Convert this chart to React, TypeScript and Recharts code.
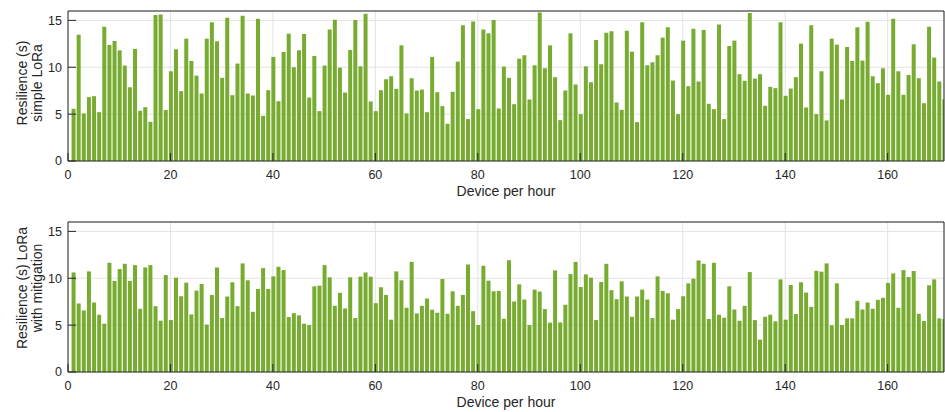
import React from "react";
import { BarChart, Bar, XAxis, YAxis, CartesianGrid } from "recharts";

// Devices per hour run 1..171 along the x axis
const devices = Array.from({ length: 171 }, (_, i) => i + 1);

const xTicks = [0, 20, 40, 60, 80, 100, 120, 140, 160];
const yTicks = [0, 5, 10, 15];

// Resilience (s), plain LoRa
const simpleLoRa = [
  5.57, 13.47, 5.07, 6.81, 6.91, 5.21, 14.33, 12.38, 12.8, 11.8,
  10.18, 7.87, 11.95, 5.35, 5.74, 4.18, 15.57, 15.64, 5.43, 9.57,
  11.91, 7.45, 13.05, 10.67, 9.11, 7.2, 13.05, 14.79, 12.77, 8.87,
  15.28, 7.02, 10.39, 15.5, 7.2, 6.99, 15.18, 4.82, 7.55, 11.1,
  6.38, 11.63, 13.58, 10.0, 11.81, 13.55, 6.77, 11.2, 5.32, 10.18,
  14.04, 15.07, 9.96, 7.3, 11.84, 15.04, 10.1, 15.71, 6.35, 5.32,
  7.55, 8.72, 9.04, 7.7, 12.34, 5.07, 8.83, 7.52, 7.62, 5.21,
  11.1, 7.34, 5.85, 3.97, 7.38, 10.6, 14.47, 4.47, 14.89, 5.53,
  14.04, 13.62, 15.04, 5.6, 10.07, 8.87, 6.06, 10.92, 11.28, 6.56,
  10.21, 15.85, 9.89, 12.34, 8.94, 4.36, 7.52, 13.62, 8.16, 5.0,
  10.1, 8.4, 12.91, 10.32, 13.69, 13.83, 6.24, 5.46, 13.9, 11.67,
  4.15, 14.79, 10.21, 10.53, 11.28, 13.16, 14.26, 8.58, 5.0, 12.84,
  7.98, 14.11, 8.48, 13.97, 6.1, 5.53, 14.57, 4.47, 12.27, 12.84,
  9.26, 8.55, 15.78, 8.79, 9.26, 5.89, 7.91, 7.77, 14.79, 6.95,
  7.73, 8.94, 12.52, 5.71, 14.47, 5.0, 9.57, 4.33, 13.05, 12.41,
  6.56, 12.16, 10.67, 14.26, 10.71, 14.86, 9.04, 8.3, 9.89, 7.06,
  15.18, 9.57, 7.06, 9.18, 12.45, 8.83, 6.17, 14.33, 11.03, 8.48, 6.6,
];

// Resilience (s), LoRa with mitigation
const mitigatedLoRa = [
  10.62, 7.31, 6.57, 10.73, 7.41, 6.11, 5.15, 11.65, 9.71, 10.98,
  11.54, 9.71, 11.4, 6.74, 11.15, 11.4, 7.02, 5.47, 10.34, 5.54,
  10.06, 8.08, 9.53, 6.14, 8.68, 9.39, 5.05, 8.22, 11.15, 5.75,
  8.05, 9.57, 7.02, 11.58, 9.78, 6.42, 8.86, 11.08, 8.86, 10.2,
  11.22, 10.87, 5.86, 6.28, 6.04, 5.15, 5.01, 9.14, 9.21, 11.4,
  10.1, 7.06, 8.44, 6.78, 10.1, 5.75, 10.17, 10.62, 10.17, 7.34,
  9.04, 8.22, 5.58, 10.73, 9.78, 6.85, 11.75, 6.25, 7.06, 7.84,
  6.64, 6.32, 9.92, 6.21, 8.61, 7.06, 8.22, 11.47, 6.49, 5.01,
  11.33, 9.74, 8.61, 8.65, 5.68, 11.93, 7.52, 9.35, 7.73, 5.01,
  8.79, 8.58, 6.71, 5.26, 10.84, 5.29, 7.17, 10.45, 11.75, 9.07,
  10.41, 10.06, 5.54, 9.6, 11.54, 8.72, 7.77, 9.67, 8.05, 5.89,
  8.05, 8.79, 7.73, 5.75, 10.2, 8.65, 8.4, 5.58, 6.71, 8.08,
  9.46, 9.95, 11.9, 11.54, 5.65, 11.65, 6.11, 5.79, 9.14, 6.67,
  5.47, 7.06, 10.66, 5.54, 3.46, 5.89, 6.11, 5.4, 9.88, 5.58,
  9.28, 6.18, 9.57, 8.47, 6.95, 10.8, 10.7, 11.58, 4.98, 9.46,
  5.01, 5.72, 5.72, 7.59, 6.67, 7.41, 6.74, 7.7, 7.91, 9.5,
  10.52, 6.85, 10.87, 10.13, 10.77, 6.21, 5.44, 9.25, 9.88, 5.72, 5.65,
];

const rows = devices.map((d, i) => ({
  device: d,
  simple: simpleLoRa[i],
  mitigated: mitigatedLoRa[i],
}));

const FONT = '"Liberation Sans", Arial, Helvetica, sans-serif';
const INK = "#262626";
const BAR = "#77AC30";
const GRID = "#e3e3e3";

// two-line rotated y title
function YTitle({ lines, cy }: { lines: string[]; cy: number }) {
  return (
    <text
      transform={`translate(27, ${cy}) rotate(-90)`}
      textAnchor="middle"
      fontFamily={FONT}
      fontSize={14}
      fill={INK}
    >
      {lines.map((l, i) => (
        <tspan key={i} x={0} y={i * 15}>
          {l}
        </tspan>
      ))}
    </text>
  );
}

function Panel({ dataKey, title, titleY }: { dataKey: string; title: string[]; titleY: number }) {
  const tick = { fill: INK, fontSize: 12.5, fontFamily: FONT };
  const line = { stroke: INK, strokeWidth: 1 };
  return (
    <BarChart width={945} height={206} data={rows} margin={{ top: 10, right: 0, bottom: 0, left: 0 }}>
      <CartesianGrid stroke={GRID} strokeWidth={1} />
      <XAxis
        dataKey="device"
        type="number"
        domain={[0, 171]}
        ticks={xTicks}
        interval={0}
        allowDataOverflow
        height={45}
        tick={tick}
        axisLine={line}
        tickLine={line}
        tickSize={-8}
        tickMargin={17}
        label={{ value: "Device per hour", position: "insideBottom", offset: 10, fill: INK, fontSize: 14, fontFamily: FONT }}
      />
      {/* frame: top and right axes with inward ticks, no labels */}
      <XAxis
        xAxisId="top"
        orientation="top"
        dataKey="device"
        type="number"
        domain={[0, 171]}
        ticks={xTicks}
        interval={0}
        allowDataOverflow
        height={1}
        tick={false}
        axisLine={line}
        tickLine={line}
        tickSize={-8}
      />
      <YAxis
        type="number"
        domain={[0, 16]}
        ticks={yTicks}
        interval={0}
        allowDataOverflow
        width={68}
        tick={tick}
        axisLine={line}
        tickLine={line}
        tickSize={-8}
        tickMargin={14}
        label={<YTitle lines={title} cy={titleY} />}
      />
      <YAxis
        yAxisId="right"
        orientation="right"
        type="number"
        domain={[0, 16]}
        ticks={yTicks}
        interval={0}
        allowDataOverflow
        width={1}
        tick={false}
        axisLine={line}
        tickLine={line}
        tickSize={-8}
      />
      <Bar dataKey={dataKey} fill={BAR} barSize={4} isAnimationActive={false} />
    </BarChart>
  );
}

export default function App() {
  return (
    <div style={{ position: "absolute", left: 0, top: 0, width: 945, height: 412, background: "#fff" }}>
      <div style={{ position: "absolute", left: 0, top: 0 }}>
        <Panel dataKey="simple" title={["Resilience (s)", "simple LoRa"]} titleY={83} />
      </div>
      <div style={{ position: "absolute", left: 0, top: 211 }}>
        <Panel dataKey="mitigated" title={["Resilience (s) LoRa", "with mitigation"]} titleY={77} />
      </div>
    </div>
  );
}
